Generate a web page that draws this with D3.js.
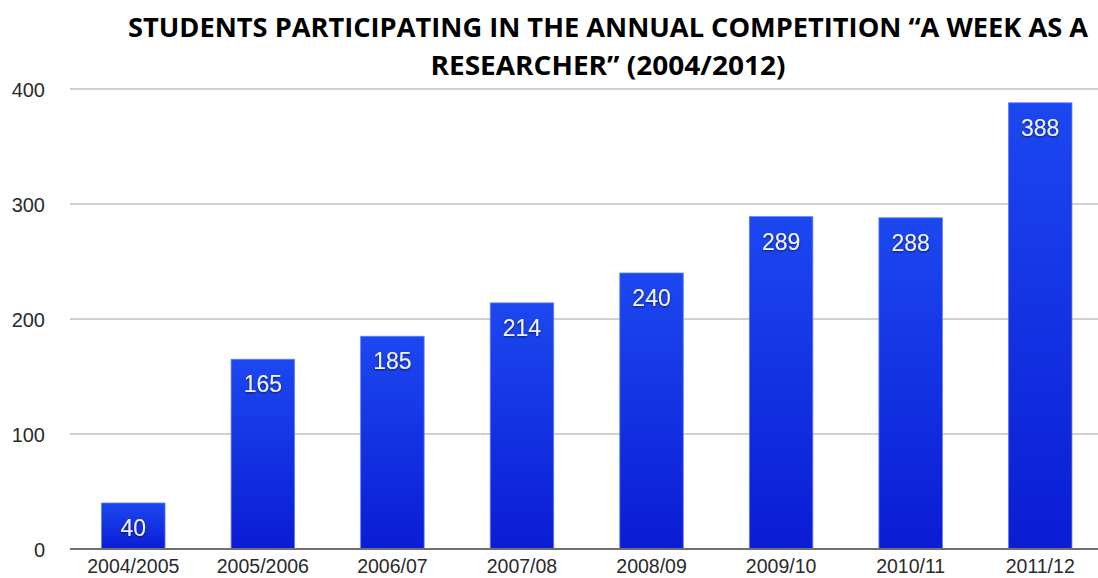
<!DOCTYPE html>
<html>
<head>
<meta charset="utf-8">
<script src="https://cdn.jsdelivr.net/npm/d3@7"></script>
<style>
  body { margin: 0; background: #fff; }
  svg { display: block; }
</style>
</head>
<body>
<div id="chart"></div>
<script>
// participants per school year
const years = ["2004/2005", "2005/2006", "2006/07", "2007/08", "2008/09", "2009/10", "2010/11", "2011/12"];
const students = [40, 165, 185, 214, 240, 289, 288, 388];
const yTicks = [0, 100, 200, 300, 400];
const titleLines = [
    "STUDENTS PARTICIPATING IN THE ANNUAL COMPETITION  \u201CA WEEK AS A",
    "RESEARCHER\u201D (2004/2012)"
];

const width = 1098;
const height = 578;

const svg = d3.select("#chart")
    .append("svg")
    .attr("width", width)
    .attr("height", height);

const defs = svg.append("defs");
const grad = defs.append("linearGradient")
    .attr("id", "barGrad")
    .attr("x1", 0).attr("y1", 0).attr("x2", 0).attr("y2", 1);
grad.append("stop").attr("offset", "0%").attr("stop-color", "#1c48f0");
grad.append("stop").attr("offset", "100%").attr("stop-color", "#0a1cd4");

const shadow = defs.append("filter").attr("id", "txtShadow")
    .attr("x", "-20%").attr("y", "-20%").attr("width", "140%").attr("height", "140%");
shadow.append("feDropShadow")
    .attr("dx", 0).attr("dy", 1).attr("stdDeviation", 0.8)
    .attr("flood-color", "#000").attr("flood-opacity", 0.6);

const x = d3.scaleBand()
    .domain(years)
    .range([68.5, 1105])
    .paddingInner(0.51)
    .paddingOuter(0.255);

const y = d3.scaleLinear()
    .domain([0, 400])
    .range([549, 89]);

// gridlines
svg.append("g")
    .selectAll("line")
    .data(yTicks.filter(d => d > 0))
    .enter().append("line")
    .attr("x1", 70)
    .attr("x2", width)
    .attr("y1", d => y(d))
    .attr("y2", d => y(d))
    .attr("stroke", "#d0d0d0")
    .attr("stroke-width", 2);

// y tick labels
svg.append("g")
    .selectAll("text")
    .data(yTicks)
    .enter().append("text")
    .attr("x", 45)
    .attr("y", d => y(d) + 7.5)
    .attr("text-anchor", "end")
    .style("font-family", "Liberation Sans, Arial, sans-serif")
    .style("font-size", "20px")
    .style("fill", "#2a2a2a")
    .text(d => d);

// bars
const bars = svg.append("g")
    .selectAll("g")
    .data(students)
    .enter().append("g");

bars.append("rect")
    .attr("x", (d, i) => x(years[i]))
    .attr("y", d => y(d))
    .attr("width", x.bandwidth())
    .attr("height", d => y(0) - y(d))
    .attr("fill", "url(#barGrad)")
    .attr("stroke", "#5f7cff")
    .attr("stroke-width", 0.8);

bars.append("text")
    .attr("x", (d, i) => x(years[i]) + x.bandwidth() / 2)
    .attr("y", d => y(d) + 33)
    .attr("text-anchor", "middle")
    .attr("filter", "url(#txtShadow)")
    .style("font-family", "Liberation Sans, Arial, sans-serif")
    .style("font-size", "23px")
    .style("fill", "#f2f2ff")
    .text(d => d);

// baseline
svg.append("line")
    .attr("x1", 70)
    .attr("x2", width)
    .attr("y1", y(0))
    .attr("y2", y(0))
    .attr("stroke", "#707070")
    .attr("stroke-width", 2);

// x labels
svg.append("g")
    .selectAll("text")
    .data(years)
    .enter().append("text")
    .attr("x", d => x(d) + x.bandwidth() / 2)
    .attr("y", 573)
    .attr("text-anchor", "middle")
    .style("font-family", "Liberation Sans, Arial, sans-serif")
    .style("font-size", "19.5px")
    .style("fill", "#2a2a2a")
    .text(d => d);

// title
const titleWidths = [960, 355];
svg.append("g")
    .selectAll("text")
    .data(titleLines)
    .enter().append("text")
    .attr("x", 608)
    .attr("y", (d, i) => 37 + i * 38)
    .attr("text-anchor", "middle")
    .attr("textLength", (d, i) => titleWidths[i])
    .attr("lengthAdjust", "spacingAndGlyphs")
    .style("font-family", "Open Sans, sans-serif")
    .style("font-weight", "bold")
    .style("font-size", "27px")
    .style("fill", "#000")
    .text(d => d);
</script>
</body>
</html>
